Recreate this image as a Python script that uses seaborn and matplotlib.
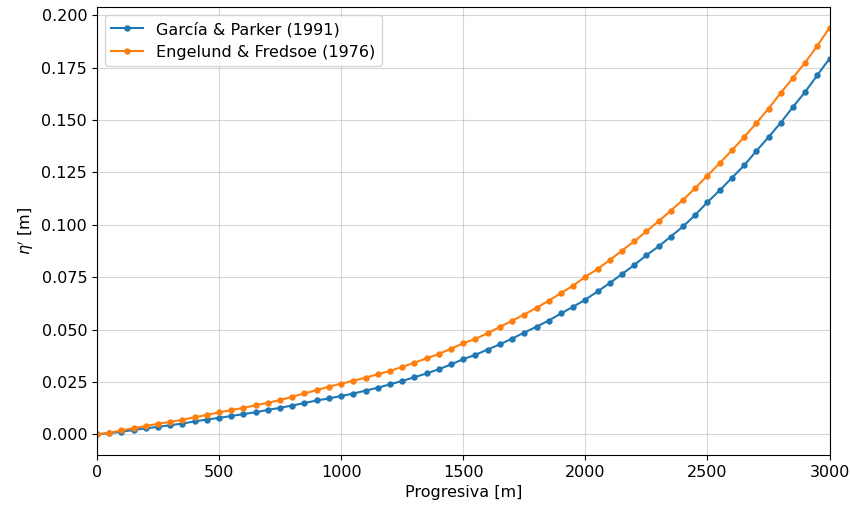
# %%
import numpy as np
import pandas as pd
import matplotlib
matplotlib.use("Agg")
import matplotlib.pyplot as plt
import seaborn as sns

# %%
progresiva = list(range(0, 3001, 50))
garcia_parker = [
  0.0, 0.0006, 0.0013, 0.0021, 0.0029, 0.0036, 0.0044, 0.0052, 0.0062, 0.0071,
  0.0079, 0.0088, 0.0097, 0.0106, 0.0117, 0.0127, 0.0138, 0.0150, 0.0162, 0.0172,
  0.0183, 0.0195, 0.0209, 0.0223, 0.0239, 0.0255, 0.0273, 0.0291, 0.0311, 0.0334,
  0.0359, 0.0380, 0.0405, 0.0430, 0.0457, 0.0486, 0.0514, 0.0543, 0.0577, 0.0609,
  0.0643, 0.0682, 0.0722, 0.0765, 0.0808, 0.0855, 0.0897, 0.0944, 0.0992, 0.1047,
  0.1108, 0.1164, 0.1224, 0.1283, 0.1352, 0.1418, 0.1487, 0.1562, 0.1634, 0.1714,
  0.1793,
]
engelund_fredsoe = [
  0.0, 0.0008, 0.0019, 0.0030, 0.0040, 0.0051, 0.0060, 0.0070, 0.0082, 0.0093,
  0.0105, 0.0116, 0.0127, 0.0139, 0.0151, 0.0164, 0.0180, 0.0196, 0.0211, 0.0228,
  0.0242, 0.0256, 0.0271, 0.0287, 0.0303, 0.0322, 0.0342, 0.0363, 0.0384, 0.0409,
  0.0435, 0.0456, 0.0483, 0.0513, 0.0542, 0.0572, 0.0604, 0.0638, 0.0674, 0.0710,
  0.0752, 0.0789, 0.0832, 0.0877, 0.0921, 0.0969, 0.1017, 0.1068, 0.1119, 0.1175,
  0.1235, 0.1294, 0.1355, 0.1418, 0.1485, 0.1554, 0.1629, 0.1701, 0.1774, 0.1854,
  0.1941,
]
labels = ["García & Parker (1991)", "Engelund & Fredsoe (1976)"]

df = pd.DataFrame({
  "x": progresiva * 2,
  "eta": garcia_parker + engelund_fredsoe,
  "modelo": [labels[0]] * len(progresiva) + [labels[1]] * len(progresiva),
})

# %%
plt.rcParams["font.size"] = 11.5
fig = plt.figure(figsize=(8.5, 5.11), dpi=100)
ax = fig.add_axes([0.114, 0.11, 0.862, 0.876])
palette = ["#1f77b4", "#ff7f0e"]
for lab, col in zip(labels, palette):
  sns.lineplot(
    data=df[df["modelo"] == lab],
    x="x",
    y="eta",
    color=col,
    marker="o",
    markersize=4.6,
    markeredgecolor=col,
    markeredgewidth=0,
    linewidth=1.5,
    label=lab,
    ax=ax,
  )
ax.set_xlim(0, 3000)
ax.grid(True, alpha=0.5)
ax.set_xlabel("Progresiva [m]")
ax.set_ylabel(r"$\eta'$ [m]")
ax.legend(loc="upper left")

plt.savefig("out.png", dpi=100)
